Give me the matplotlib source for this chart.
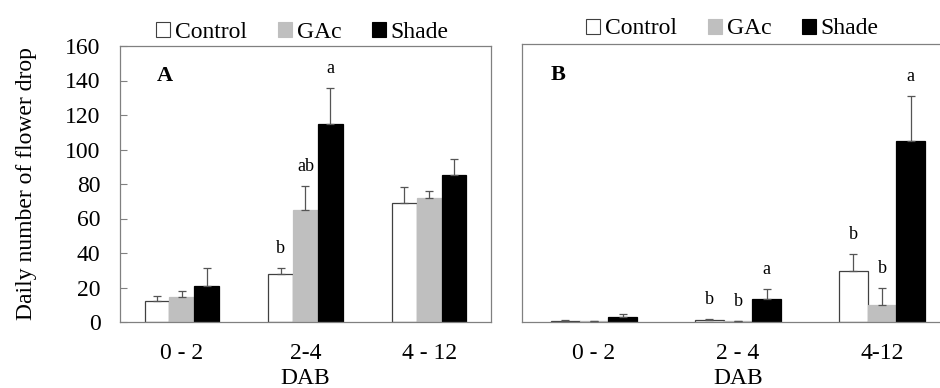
import matplotlib.pyplot as plt
import numpy as np
from matplotlib.patches import Patch

plt.rcParams['font.family'] = ['Liberation Serif', 'DejaVu Serif']

# Dane
treatments = ['Control', 'GAc', 'Shade']
colors = ['white', '#bfbfbf', 'black']

cats_a = ['0 - 2', '2-4', '4 - 12']
means_a = [[12.3, 28.0, 68.8],    # Control
           [14.5, 65.0, 71.7],    # GAc
           [21.0, 115.0, 85.2]]   # Shade
errs_a = [[2.6, 3.5, 9.6],
          [3.5, 14.0, 4.4],
          [10.5, 20.5, 9.5]]
letters_a = [['', 'b', ''],
             ['', 'ab', ''],
             ['', 'a', '']]

cats_b = ['0 - 2', '2 - 4', '4-12']
means_b = [[0.7, 1.0, 29.2],
           [0.3, 0.3, 9.5],
           [3.1, 13.1, 104.0]]
errs_b = [[0.3, 0.6, 10.0],
          [0.2, 0.4, 10.0],
          [1.5, 5.8, 26.0]]
letters_b = [['', 'b', 'b'],
             ['', 'b', 'b'],
             ['', 'a', 'a']]

fig = plt.figure(figsize=(9.4, 3.88), dpi=100)
ax1 = fig.add_axes([120 / 940, 1 - 322 / 388, 371 / 940, 276 / 388])
ax2 = fig.add_axes([522 / 940, 1 - 322 / 388, 432 / 940, 278 / 388])

spine_col = '#808080'
width = 0.2


def draw_panel(ax, cats, means, errs, letters, tag, tag_pos):
    x = np.arange(len(cats))
    for i, name in enumerate(treatments):
        pos = x + (i - 1) * width
        ec = '#404040' if i == 0 else colors[i]
        ax.bar(pos, means[i], width, color=colors[i], edgecolor=ec,
               linewidth=0.9, label=name, zorder=2)
        ax.errorbar(pos, means[i], yerr=[np.zeros(len(cats)), errs[i]],
                    fmt='none', ecolor='#555555', elinewidth=0.9,
                    capsize=3, capthick=0.9, zorder=3)
        for p, m, e, lab in zip(pos, means[i], errs[i], letters[i]):
            if lab:
                ax.annotate(lab, (p, m + e), xytext=(0, 14),
                            textcoords='offset points', ha='center',
                            va='center', fontsize=13)
    ax.set_xlim(-0.5, len(cats) - 0.5)
    ax.set_ylim(0, 160)
    ax.set_xticks(x)
    ax.set_xticklabels(cats, fontsize=17)
    ax.tick_params(axis='x', length=0, pad=15)
    ax.set_xlabel('DAB', fontsize=17, labelpad=3)
    for s in ax.spines.values():
        s.set_color(spine_col)
        s.set_linewidth(0.9)
    ax.text(tag_pos[0], tag_pos[1], tag, transform=ax.transAxes,
            fontsize=16, fontweight='bold', ha='center', va='center')


draw_panel(ax1, cats_a, means_a, errs_a, letters_a, 'A', (0.121, 0.89))
draw_panel(ax2, cats_b, means_b, errs_b, letters_b, 'B', (0.083, 0.89))

ax1.set_yticks(np.arange(0, 161, 20))
ax1.tick_params(axis='y', direction='in', length=5, color=spine_col,
                labelsize=17, pad=14)
ax1.set_ylabel('Daily number of flower drop', fontsize=17, labelpad=20)
ax2.set_yticks([])

handles = [Patch(facecolor=c, edgecolor='#404040' if c == 'white' else c,
                 linewidth=0.8) for c in colors]
for ax, cx, cy in [(ax1, 302.5 / 940, 1 - 32 / 388),
                   (ax2, 732.5 / 940, 1 - 29 / 388)]:
    ax.legend(handles, treatments, loc='center', ncol=3, frameon=False,
              bbox_to_anchor=(cx, cy), bbox_transform=fig.transFigure,
              fontsize=17, handlelength=0.6, handleheight=0.6,
              handletextpad=0.2, columnspacing=1.3, borderpad=0)

fig.savefig('out.png', dpi=100)
